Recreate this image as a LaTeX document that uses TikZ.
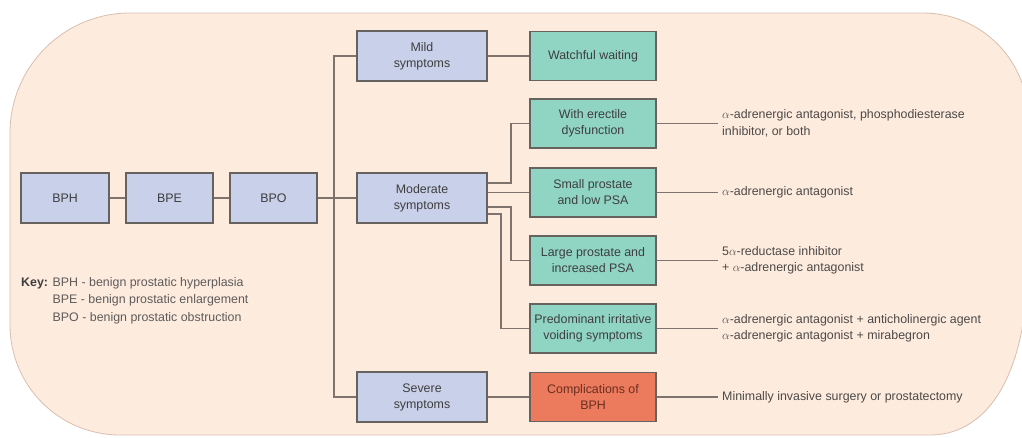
\documentclass[tikz,border=0pt]{standalone}
\usepackage{fontspec}
\setmainfont{Liberation Sans}
\usetikzlibrary{calc}

\definecolor{bgfill}{HTML}{FDEBDE}
\definecolor{bgedge}{HTML}{D9BFAE}
\definecolor{stagefill}{HTML}{C9D0EA}
\definecolor{tealfill}{HTML}{90D4C3}
\definecolor{redfill}{HTML}{EC7A5C}
\definecolor{boxedge}{HTML}{66625F}
\definecolor{linkcol}{HTML}{7F736D}
\definecolor{boxtext}{HTML}{3E3E3E}
\definecolor{redtext}{HTML}{6A2F22}
\definecolor{rxtext}{HTML}{4C4947}
\definecolor{keytext}{HTML}{5E5B5A}

\tikzset{
  x=1pt, y=-1pt,
  box/.style={draw=boxedge, line width=1.5pt, minimum height=50pt, align=center,
    inner sep=2pt, text=boxtext, font=\fontsize{12.4}{16}\selectfont},
  stage/.style={box, fill=stagefill, minimum width=88pt},
  grade/.style={box, fill=stagefill, minimum width=130pt},
  treat/.style={box, fill=tealfill, minimum width=126pt, minimum height=49pt},
  compl/.style={treat, fill=redfill, text=redtext},
  rx/.style={anchor=west, align=left, inner sep=4pt, text=rxtext,
    font=\fontsize{12.4}{16.5}\selectfont},
  link/.style={draw=linkcol, line width=1.9pt},
}

\begin{document}
\begin{tikzpicture}
\useasboundingbox (0,0) rectangle (1022,437);
\clip (0,0) rectangle (1022,437);

% rounded backdrop panel
\filldraw[fill=bgfill, draw=bgedge, line width=0.8pt]
  (130,13) -- (923,13) arc[start angle=90, end angle=0, radius=105pt]
  -- (1028,250) .. controls (1030,370) and (990,435) .. (930,435)
  -- (120,435) arc[start angle=270, end angle=180, radius=110pt]
  -- (10,133) arc[start angle=180, end angle=90, radius=120pt] -- cycle;

% stages
\node[stage] (bph) at (65,198) {BPH};
\node[stage, minimum width=87pt] (bpe) at (169.5,198) {BPE};
\node[stage, minimum width=87pt] (bpo) at (273.5,198) {BPO};

% symptom grades
\node[grade] (mild) at (422,56) {Mild\\symptoms};
\node[grade] (moderate) at (422,198) {Moderate\\symptoms};
\node[grade] (severe) at (422,397) {Severe\\symptoms};

% treatment groups
\node[treat] (watch) at (593,56) {Watchful waiting};
\node[treat] (erect) at (593,123.5) {With erectile\\dysfunction};
\node[treat] (small) at (593,192.5) {Small prostate\\and low PSA};
\node[treat] (large) at (593,260.5) {Large prostate and\\increased PSA};
\node[treat] (irrit) at (593,328.5) {Predominant irritative\\voiding symptoms};
\node[compl] (compl) at (593,397) {Complications of\\BPH};

% therapies
\node[rx] (t1) at (718,123.5) {$\alpha$-adrenergic antagonist, phosphodiesterase\\inhibitor, or both};
\node[rx] (t2) at (718,192.5) {$\alpha$-adrenergic antagonist};
\node[rx] (t3) at (718,260.5) {5$\alpha$-reductase inhibitor\\+ $\alpha$-adrenergic antagonist};
\node[rx] (t4) at (718,328.5) {$\alpha$-adrenergic antagonist + anticholinergic agent\\$\alpha$-adrenergic antagonist + mirabegron};
\node[rx] (t5) at (718,397) {Minimally invasive surgery or prostatectomy};

% key
\node[anchor=north west, inner sep=0pt, text=keytext,
  font=\fontsize{12.4}{17.5}\selectfont] (key) at (21,274)
  {\begin{tabular}{@{}l@{ }l@{}}
    \textcolor{boxtext}{\textbf{Key:}} & BPH - benign prostatic hyperplasia\\
     & BPE - benign prostatic enlargement\\
     & BPO - benign prostatic obstruction
   \end{tabular}};

% connectors
\coordinate (trunk) at (334,198);
\coordinate (fork1) at (511,0);
\coordinate (fork2) at (501,0);

\draw[link] (bph) -- (bpe);
\draw[link] (bpe) -- (bpo);
\draw[link] (bpo) -- (moderate);
\draw[link] (mild.west) -| (trunk) |- (severe.west);

\draw[link] (mild) -- (watch);
\draw[link] (severe) -- (compl);

\draw[link] ([yshift=15pt]moderate.east) -| (fork1 |- erect.west) -- (erect.west);
\draw[link] (moderate.east |- small.west) -- (small.west);
\draw[link] ([yshift=-9pt]moderate.east) -| (fork1 |- large.west) -- (large.west);
\draw[link] ([yshift=-16pt]moderate.east) -| (fork2 |- irrit.west) -- (irrit.west);

\draw[link] (erect.east) -- (erect.east -| t1.west);
\draw[link] (small.east) -- (small.east -| t2.west);
\draw[link] (large.east) -- (large.east -| t3.west);
\draw[link] (irrit.east) -- (irrit.east -| t4.west);
\draw[link] (compl.east) -- (compl.east -| t5.west);
\end{tikzpicture}
\end{document}
